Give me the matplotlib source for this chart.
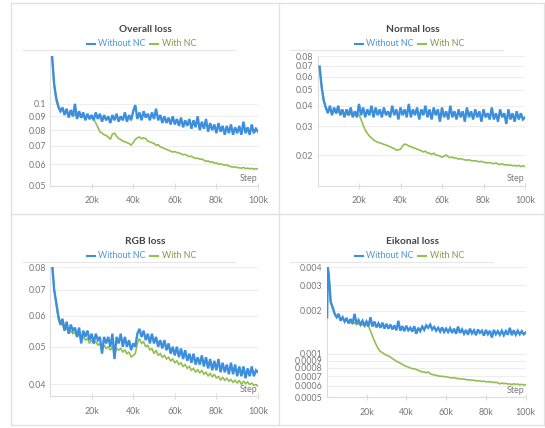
import matplotlib
matplotlib.use("Agg")
import matplotlib.pyplot as plt
import numpy as np

plt.rcParams['font.family'] = ['Lato', 'DejaVu Sans']

BLUE = '#3b8fdc'
GREEN = '#92c050'
BLUE_TXT = '#4a97d8'
GREEN_TXT = '#7f9c45'

steps = np.arange(1, 101) * 1000

overall_without = [
    0.150, 0.118, 0.105, 0.098, 0.094, 0.097, 0.091, 0.096, 0.089, 0.095,
    0.090, 0.100, 0.088, 0.094, 0.089, 0.093, 0.087, 0.092, 0.088, 0.091,
    0.087, 0.093, 0.088, 0.092, 0.086, 0.091, 0.087, 0.090, 0.085, 0.091,
    0.087, 0.092, 0.086, 0.090, 0.087, 0.093, 0.086, 0.091, 0.087, 0.094,
    0.099, 0.088, 0.093, 0.087, 0.094, 0.089, 0.092, 0.087, 0.093, 0.088,
    0.096, 0.087, 0.091, 0.085, 0.090, 0.085, 0.089, 0.084, 0.090, 0.084,
    0.088, 0.083, 0.089, 0.082, 0.087, 0.083, 0.088, 0.081, 0.087, 0.082,
    0.090, 0.080, 0.086, 0.081, 0.088, 0.079, 0.085, 0.080, 0.084, 0.078,
    0.085, 0.079, 0.083, 0.077, 0.083, 0.078, 0.084, 0.077, 0.082, 0.078,
    0.083, 0.077, 0.086, 0.078, 0.082, 0.077, 0.084, 0.078, 0.081, 0.079,
]
overall_with = [
    0.150, 0.117, 0.103, 0.097, 0.094, 0.095, 0.092, 0.094, 0.091, 0.093,
    0.090, 0.092, 0.089, 0.091, 0.089, 0.090, 0.088, 0.090, 0.088, 0.089,
    0.088, 0.085, 0.082, 0.079, 0.078, 0.077, 0.0765, 0.0755, 0.074, 0.0775,
    0.078, 0.076, 0.0745, 0.074, 0.073, 0.0725, 0.072, 0.0715, 0.0705, 0.072,
    0.074, 0.075, 0.0755, 0.0745, 0.075, 0.0745, 0.073, 0.0725, 0.072, 0.0715,
    0.0705, 0.0708, 0.0695, 0.069, 0.0685, 0.068, 0.0675, 0.067, 0.0665, 0.0668,
    0.0662, 0.066, 0.0655, 0.065, 0.0652, 0.0645, 0.064, 0.0642, 0.0635, 0.063,
    0.0632, 0.0625, 0.0627, 0.062, 0.0615, 0.0617, 0.061, 0.0612, 0.0605, 0.0607,
    0.060, 0.0602, 0.0598, 0.0595, 0.0597, 0.059, 0.0588, 0.0585, 0.0587, 0.0583,
    0.0582, 0.058, 0.0584, 0.0578, 0.058, 0.0577, 0.0579, 0.0575, 0.0578, 0.0575,
]

normal_without = [
    0.069, 0.052, 0.043, 0.039, 0.036, 0.040, 0.035, 0.039, 0.036, 0.040,
    0.035, 0.038, 0.034, 0.038, 0.035, 0.039, 0.034, 0.037, 0.034, 0.041,
    0.035, 0.039, 0.034, 0.038, 0.035, 0.040, 0.034, 0.039, 0.035, 0.038,
    0.034, 0.039, 0.035, 0.037, 0.034, 0.040, 0.035, 0.038, 0.033, 0.039,
    0.035, 0.038, 0.034, 0.041, 0.034, 0.038, 0.035, 0.039, 0.033, 0.038,
    0.035, 0.040, 0.034, 0.038, 0.033, 0.039, 0.035, 0.038, 0.032, 0.039,
    0.034, 0.037, 0.033, 0.040, 0.034, 0.037, 0.033, 0.038, 0.034, 0.037,
    0.032, 0.039, 0.034, 0.037, 0.033, 0.038, 0.034, 0.037, 0.032, 0.038,
    0.034, 0.036, 0.033, 0.039, 0.033, 0.036, 0.032, 0.038, 0.034, 0.036,
    0.031, 0.038, 0.033, 0.036, 0.032, 0.037, 0.033, 0.036, 0.033, 0.034,
]
normal_with = [
    0.069, 0.052, 0.043, 0.039, 0.037, 0.038, 0.036, 0.0375, 0.036, 0.037,
    0.0355, 0.0365, 0.035, 0.036, 0.035, 0.0358, 0.0348, 0.0355, 0.0348, 0.0352,
    0.033, 0.0305, 0.0285, 0.0272, 0.0262, 0.0255, 0.0248, 0.0244, 0.024, 0.0238,
    0.0236, 0.0233, 0.0231, 0.0228, 0.0226, 0.0222, 0.022, 0.0215, 0.0216, 0.0218,
    0.0228, 0.0234, 0.0232, 0.0228, 0.0226, 0.0223, 0.0221, 0.0218, 0.0216, 0.0213,
    0.021, 0.0212, 0.0207, 0.0206, 0.0203, 0.0206, 0.0201, 0.020, 0.0198, 0.0195,
    0.0198, 0.0201, 0.0196, 0.0194, 0.0195, 0.0193, 0.0192, 0.019, 0.0191, 0.0189,
    0.0188, 0.0187, 0.0188, 0.0186, 0.0185, 0.0186, 0.0184, 0.0183, 0.0184, 0.0182,
    0.0181, 0.018, 0.0181, 0.0179, 0.0178, 0.018, 0.0177, 0.0176, 0.0178, 0.0175,
    0.0176, 0.0174, 0.0175, 0.0173, 0.0174, 0.0172, 0.0174, 0.0171, 0.0173, 0.0171,
]

rgb_without = [
    0.082, 0.070, 0.065, 0.060, 0.057, 0.059, 0.055, 0.058, 0.054, 0.057,
    0.055, 0.056, 0.053, 0.056, 0.051, 0.055, 0.053, 0.055, 0.052, 0.054,
    0.051, 0.054, 0.052, 0.053, 0.048, 0.053, 0.051, 0.053, 0.050, 0.054,
    0.0465, 0.053, 0.051, 0.054, 0.050, 0.053, 0.050, 0.052, 0.049, 0.051,
    0.050, 0.054, 0.0556, 0.053, 0.055, 0.052, 0.054, 0.051, 0.054, 0.051,
    0.053, 0.050, 0.052, 0.0495, 0.052, 0.049, 0.051, 0.048, 0.050, 0.0475,
    0.050, 0.047, 0.0495, 0.0465, 0.049, 0.046, 0.048, 0.0455, 0.048, 0.045,
    0.047, 0.045, 0.0475, 0.0445, 0.047, 0.044, 0.0465, 0.0435, 0.046, 0.0435,
    0.0465, 0.043, 0.0455, 0.043, 0.045, 0.0425, 0.0455, 0.0425, 0.045, 0.042,
    0.0445, 0.042, 0.0445, 0.0415, 0.044, 0.042, 0.0445, 0.042, 0.0435, 0.043,
]
rgb_with = [
    0.082, 0.070, 0.064, 0.059, 0.057, 0.057, 0.055, 0.056, 0.054, 0.055,
    0.054, 0.0545, 0.053, 0.054, 0.052, 0.053, 0.052, 0.0525, 0.051, 0.052,
    0.051, 0.0515, 0.0505, 0.051, 0.049, 0.0505, 0.0495, 0.050, 0.049, 0.050,
    0.048, 0.0495, 0.049, 0.0495, 0.0485, 0.049, 0.048, 0.0485, 0.047, 0.0475,
    0.048, 0.051, 0.0525, 0.051, 0.0515, 0.050, 0.0505, 0.049, 0.0495, 0.048,
    0.049, 0.0475, 0.048, 0.047, 0.0475, 0.0465, 0.047, 0.046, 0.0465, 0.0455,
    0.046, 0.045, 0.0455, 0.0445, 0.045, 0.044, 0.0445, 0.0435, 0.044, 0.043,
    0.0437, 0.0428, 0.0435, 0.0425, 0.043, 0.042, 0.0428, 0.0418, 0.0425, 0.0415,
    0.042, 0.041, 0.0418, 0.041, 0.0415, 0.0408, 0.0412, 0.0405, 0.041, 0.0403,
    0.041, 0.040, 0.0408, 0.0402, 0.0406, 0.040, 0.0403, 0.0398, 0.040, 0.0396,
]

eik_start_steps = [200, 500]
eik_start_values = [0.0018, 0.0040]
eikonal_without = [
    0.0036, 0.0023, 0.0021, 0.0019, 0.0018, 0.0019, 0.0017, 0.0018, 0.00168, 0.00178,
    0.00163, 0.00175, 0.00162, 0.0019, 0.00162, 0.00172, 0.0016, 0.0017, 0.00158, 0.00168,
    0.00156, 0.0018, 0.00155, 0.00168, 0.00153, 0.00163, 0.00152, 0.00165, 0.0015, 0.00162,
    0.0015, 0.0016, 0.00148, 0.00158, 0.00146, 0.0017, 0.00145, 0.00156, 0.00144, 0.00157,
    0.00146, 0.00152, 0.00143, 0.00156, 0.00138, 0.00152, 0.00144, 0.00155, 0.00147, 0.00158,
    0.00152, 0.0016, 0.00148, 0.00154, 0.00145, 0.00152, 0.00143, 0.00153, 0.00142, 0.0015,
    0.00142, 0.00151, 0.0014, 0.0015, 0.00138, 0.00155, 0.0014, 0.00148, 0.00138, 0.00147,
    0.00136, 0.0015, 0.00139, 0.00146, 0.00135, 0.00148, 0.0014, 0.00145, 0.00134, 0.00147,
    0.00137, 0.00145, 0.0013, 0.00147, 0.00137, 0.00144, 0.00136, 0.00145, 0.00135, 0.00144,
    0.00136, 0.00152, 0.00135, 0.00146, 0.00136, 0.00145, 0.00137, 0.00144, 0.00137, 0.00141,
]
eikonal_with = [
    0.0036, 0.0023, 0.0021, 0.0019, 0.0018, 0.00183, 0.00172, 0.00176, 0.00168, 0.0017,
    0.00164, 0.00167, 0.00162, 0.00165, 0.0016, 0.00163, 0.00158, 0.0016, 0.00157, 0.00158,
    0.00155, 0.00145, 0.00133, 0.00123, 0.00115, 0.00108, 0.00104, 0.00102, 0.0010, 0.00098,
    0.00097, 0.00095, 0.00093, 0.00091, 0.00089, 0.00088, 0.00086, 0.00085, 0.00083, 0.00082,
    0.00081, 0.0008, 0.00079, 0.00079, 0.00078, 0.00077, 0.00076, 0.00075, 0.00075, 0.00074,
    0.00075, 0.00073, 0.00072, 0.000715, 0.00071, 0.000705, 0.0007, 0.0007, 0.000695, 0.000695,
    0.00069, 0.000685, 0.00068, 0.000685, 0.000678, 0.000675, 0.00067, 0.000672, 0.000668, 0.000665,
    0.00066, 0.000662, 0.000655, 0.000658, 0.00065, 0.000652, 0.000648, 0.000645, 0.000648, 0.00064,
    0.000642, 0.000638, 0.00064, 0.000633, 0.000636, 0.00063, 0.00062, 0.000628, 0.000622, 0.000625,
    0.000618, 0.00062, 0.000612, 0.00062, 0.000615, 0.000618, 0.00061, 0.000615, 0.00061, 0.000612,
]

xticks = [20000, 40000, 60000, 80000, 100000]
xtick_labels = ['20k', '40k', '60k', '80k', '100k']

W, H = 545, 428
fig = plt.figure(figsize=(W / 100, H / 100), dpi=100)


def px(x, y):
    return x / W, 1 - y / H


# panel frames
for (x0, y0, x1, y1) in [(11, 3, 544, 3), (11, 425, 544, 425), (11, 3, 11, 425),
                         (544, 3, 544, 425), (279, 3, 279, 425), (11, 214, 544, 214)]:
    fig.add_artist(plt.Line2D([x0 / W, x1 / W], [1 - y0 / H, 1 - y1 / H],
                              color='#e2e2e2', lw=1))


def make_panel(rect, title, title_xy, under, xs_b, ys_b, xs_g, ys_g,
               ylim, yticks, ylabels):
    ax = fig.add_axes(rect)
    ax.plot(xs_g, ys_g, color=GREEN, lw=1.2, zorder=3, solid_joinstyle='miter')
    ax.plot(xs_b, ys_b, color=BLUE, lw=1.7, zorder=4, solid_joinstyle='miter')
    ax.set_yscale('log')
    ax.set_xlim(0, 100000)
    ax.set_ylim(*ylim)
    ax.set_yticks(yticks)
    ax.set_yticklabels(ylabels)
    ax.minorticks_off()
    ax.set_xticks(xticks)
    ax.set_xticklabels(xtick_labels)
    ax.tick_params(axis='y', length=0, labelsize=6.3, labelcolor='#777777', pad=3)
    ax.tick_params(axis='x', direction='inout', length=5, color='#dddddd',
                   labelsize=6.4, labelcolor='#777777', pad=5)
    for s in ['top', 'right']:
        ax.spines[s].set_visible(False)
    for s in ['left', 'bottom']:
        ax.spines[s].set_color('#dddddd')
    ax.grid(axis='y', color='#eeeeee', lw=0.8)
    ax.set_axisbelow(True)
    ax.text(0.995, 0.055, 'Step', transform=ax.transAxes, ha='right', va='center',
            fontsize=6.4, color='#777777', zorder=5)

    tx, ty = title_xy
    fig.text(*px(tx, ty), title, ha='center', va='center', fontsize=7.3,
             fontweight='bold', color='#444444')
    # legend row
    lx = tx - 58
    ly = ty + 14
    fig.add_artist(plt.Line2D([lx / W, (lx + 8) / W], [1 - ly / H] * 2, color=BLUE, lw=1.5))
    fig.text(*px(lx + 11, ly), 'Without NC', ha='left', va='center', fontsize=6.4,
             color=BLUE_TXT)
    fig.add_artist(plt.Line2D([(lx + 63) / W, (lx + 71) / W], [1 - ly / H] * 2,
                              color=GREEN, lw=1.5))
    fig.text(*px(lx + 75, ly), 'With NC', ha='left', va='center', fontsize=6.4,
             color=GREEN_TXT)
    ux0, ux1, uy = under
    fig.add_artist(plt.Line2D([ux0 / W, ux1 / W], [1 - uy / H] * 2, color='#e6e6e6', lw=0.8))
    return ax


make_panel([50 / W, 1 - 185.7 / H, 208 / W, 129.7 / H], 'Overall loss', (145, 30),
           (23, 235, 50), steps, overall_without, steps, overall_with,
           (0.05, 0.15), [0.05, 0.06, 0.07, 0.08, 0.09, 0.1],
           ['0.05', '0.06', '0.07', '0.08', '0.09', '0.1'])

make_panel([317.5 / W, 1 - 185.7 / H, 207.5 / W, 129.7 / H], 'Normal loss', (412.5, 30),
           (290, 503, 50), steps, normal_without, steps, normal_with,
           (0.0131, 0.08), [0.02, 0.03, 0.04, 0.05, 0.06, 0.07, 0.08],
           ['0.02', '0.03', '0.04', '0.05', '0.06', '0.07', '0.08'])

make_panel([50 / W, 1 - 396.3 / H, 208 / W, 129 / H], 'RGB loss', (145, 241.5),
           (23, 235, 261.5), steps, rgb_without, steps, rgb_with,
           (0.0373, 0.08), [0.04, 0.05, 0.06, 0.07, 0.08],
           ['0.04', '0.05', '0.06', '0.07', '0.08'])

make_panel([326.7 / W, 1 - 397.3 / H, 199 / W, 130 / H], 'Eikonal loss', (412.5, 241.5),
           (290, 493, 261.5),
           eik_start_steps + list(steps), eik_start_values + eikonal_without,
           eik_start_steps + list(steps), eik_start_values + eikonal_with,
           (0.0005, 0.004),
           [0.0005, 0.0006, 0.0007, 0.0008, 0.0009, 0.001, 0.002, 0.003, 0.004],
           ['0.0005', '0.0006', '0.0007', '0.0008', '0.0009', '0.001', '0.002',
            '0.003', '0.004'])

fig.savefig('out.png', dpi=100)
